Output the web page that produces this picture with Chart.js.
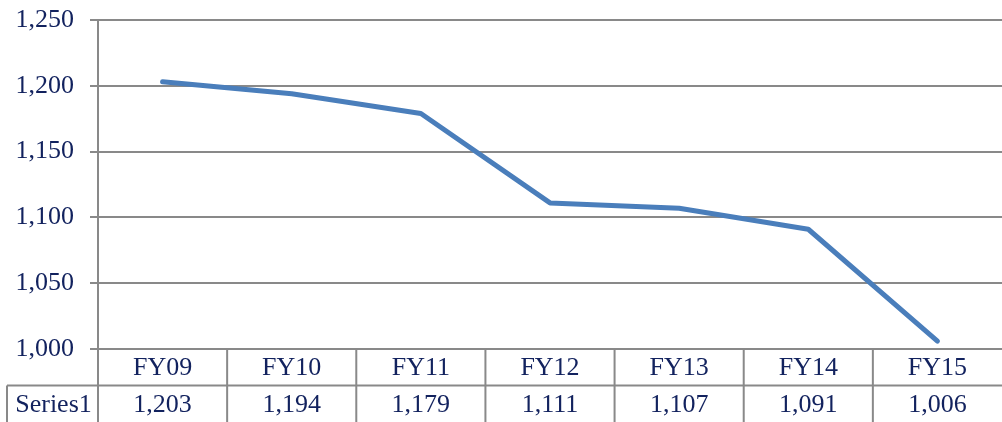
<!DOCTYPE html>
<html>
<head>
<meta charset="utf-8">
<script src="https://cdn.jsdelivr.net/npm/chart.js@4/dist/chart.umd.min.js"></script>
<style>
  html, body { margin: 0; padding: 0; background: #fff; }
  canvas { display: block; }
</style>
</head>
<body>
<canvas id="chart" width="1002" height="422"></canvas>
<script>
// data
const categories = ['FY09', 'FY10', 'FY11', 'FY12', 'FY13', 'FY14', 'FY15'];
const seriesName = 'Series1';
const seriesValues = [1203, 1194, 1179, 1111, 1107, 1091, 1006];
const yTicks = [1000, 1050, 1100, 1150, 1200, 1250];

const textColor = '#12225e';
const lineGray = '#898989';
const font = "'Liberation Serif', 'Times New Roman', serif";

// draws the data table under the plot using the x scale positions
const dataTable = {
    id: 'dataTable',
    afterDraw(chart) {
        const c = chart.ctx;
        const xs = chart.scales.x;
        const area = chart.chartArea;
        const top = area.bottom;
        const bottom = chart.height;
        const rowH = (bottom - top) / 2;
        const step = (area.right - area.left) / categories.length;
        const tableLeft = 7;

        c.save();
        c.strokeStyle = lineGray;
        c.lineWidth = 2;
        c.beginPath();
        // row divider
        c.moveTo(tableLeft, top + rowH);
        c.lineTo(area.right, top + rowH);
        // left edge of series name cell
        c.moveTo(tableLeft, top + rowH);
        c.lineTo(tableLeft, bottom);
        // column dividers
        for (let i = 0; i < categories.length; i++) {
            const x = area.left + i * step;
            c.moveTo(x, i === 0 ? area.top : top);
            c.lineTo(x, bottom);
        }
        c.stroke();

        c.fillStyle = textColor;
        c.font = `26px ${font}`;
        c.textAlign = 'center';
        c.textBaseline = 'middle';
        categories.forEach((cat, i) => {
            const x = xs.getPixelForValue(i);
            c.fillText(cat, x, top + rowH / 2 + 1);
            c.fillText(seriesValues[i].toLocaleString('en-US'), x, top + rowH * 1.5 + 1);
        });
        c.fillText(seriesName, (tableLeft + area.left) / 2 + 1, top + rowH * 1.5 + 1);
        c.restore();
    }
};

new Chart(document.getElementById('chart').getContext('2d'), {
    type: 'line',
    data: {
        labels: categories,
        datasets: [{
            label: seriesName,
            data: seriesValues,
            borderColor: '#4a7ebb',
            borderWidth: 5,
            borderCapStyle: 'round',
            borderJoinStyle: 'round',
            pointRadius: 0,
            tension: 0,
            fill: false
        }]
    },
    options: {
        responsive: false,
        animation: false,
        layout: { padding: { top: 20, right: 0, bottom: 73, left: 0 } },
        plugins: {
            legend: { display: false },
            tooltip: { enabled: false }
        },
        scales: {
            x: {
                display: false,
                offset: true
            },
            y: {
                min: 1000,
                max: 1250,
                afterBuildTicks: (scale) => { scale.ticks = yTicks.map(v => ({ value: v })); },
                afterFit: (scale) => {
                    scale.width = 98;
                    scale.paddingTop = 0;
                    scale.paddingBottom = 0;
                },
                grid: { color: lineGray, lineWidth: 2, tickLength: 8 },
                border: { color: lineGray, width: 2 },
                ticks: {
                    color: textColor,
                    font: { family: font, size: 26 },
                    padding: 16,
                    callback: (v) => v.toLocaleString('en-US')
                }
            }
        }
    },
    plugins: [dataTable]
});
</script>
</body>
</html>
